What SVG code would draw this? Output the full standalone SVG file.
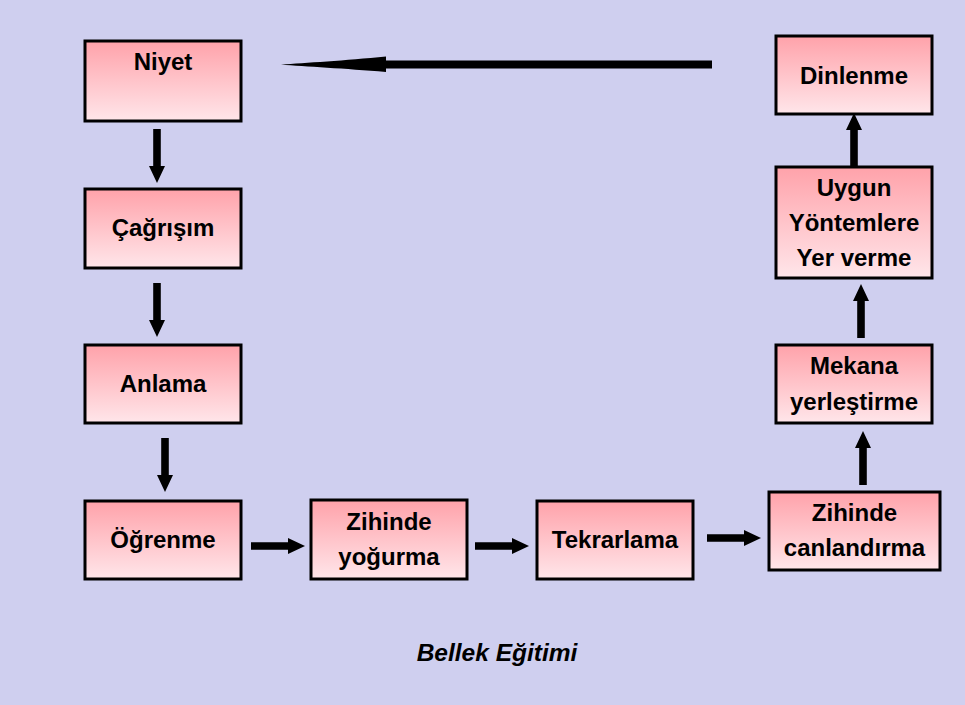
<svg xmlns="http://www.w3.org/2000/svg" width="965" height="705" viewBox="0 0 965 705">
<defs>
<linearGradient id="g" x1="0" y1="0" x2="0" y2="1">
<stop offset="0" stop-color="#FFA2AA"/>
<stop offset="1" stop-color="#FFE6EA"/>
</linearGradient>
<path id="arr" d="M0,-3.8 L37,-3.8 L37,-8 L54,0 L37,8 L37,3.8 L0,3.8 Z" fill="#000"/>
</defs>
<style>
.n{fill:url(#g);stroke:#000;stroke-width:3}
.t{font-family:"Liberation Sans",Arial,sans-serif;font-weight:bold;font-size:24px;text-anchor:middle;fill:#000}
.title{font-family:"Liberation Sans",Arial,sans-serif;font-weight:bold;font-style:italic;font-size:24.5px;text-anchor:middle;fill:#000}
</style>
<rect width="965" height="705" fill="#CFCFEF"/>
<g id="niyet"><rect class="n" x="85" y="41" width="156" height="80"/><text class="t" x="163" y="70">Niyet</text></g>
<g id="cagrisim"><rect class="n" x="85" y="189" width="156" height="79"/><text class="t" x="163" y="236">Çağrışım</text></g>
<g id="anlama"><rect class="n" x="85" y="345" width="156" height="78"/><text class="t" x="163" y="392">Anlama</text></g>
<g id="ogrenme"><rect class="n" x="85" y="501" width="156" height="78"/><text class="t" x="163" y="548">Öğrenme</text></g>
<g id="yogurma"><rect class="n" x="311" y="500" width="156" height="79"/><text class="t" x="389" y="530">Zihinde</text><text class="t" x="389" y="565">yoğurma</text></g>
<g id="tekrarlama"><rect class="n" x="537" y="501" width="156" height="78"/><text class="t" x="615" y="548">Tekrarlama</text></g>
<g id="canlandirma"><rect class="n" x="769" y="492" width="171" height="78"/><text class="t" x="854.5" y="521">Zihinde</text><text class="t" x="854.5" y="556">canlandırma</text></g>
<g id="mekana"><rect class="n" x="776" y="345" width="156" height="78"/><text class="t" x="854" y="374">Mekana</text><text class="t" x="854" y="410">yerleştirme</text></g>
<g id="uygun"><rect class="n" x="776" y="167" width="156" height="111"/><text class="t" x="854" y="196">Uygun</text><text class="t" x="854" y="231">Yöntemlere</text><text class="t" x="854" y="266">Yer verme</text></g>
<g id="dinlenme"><rect class="n" x="776" y="36" width="156" height="78"/><text class="t" x="854" y="84">Dinlenme</text></g>
<g id="connectors">
<use href="#arr" transform="translate(157,129) rotate(90)"/>
<use href="#arr" transform="translate(157,283) rotate(90)"/>
<use href="#arr" transform="translate(165,438) rotate(90)"/>
<use href="#arr" transform="translate(251,546)"/>
<use href="#arr" transform="translate(475,546)"/>
<use href="#arr" transform="translate(707,538)"/>
<use href="#arr" transform="translate(863,485) rotate(-90)"/>
<use href="#arr" transform="translate(861,338) rotate(-90)"/>
<use href="#arr" transform="translate(854,167) rotate(-90)"/>
<rect x="385" y="60.5" width="327" height="8" fill="#000"/>
<path d="M386,56.5 L386,72 C345,68.5 305,66.5 281,64.5 C305,63 345,60.5 386,56.5 Z" fill="#000"/>
</g>
<text class="title" x="497" y="661">Bellek Eğitimi</text>
</svg>
